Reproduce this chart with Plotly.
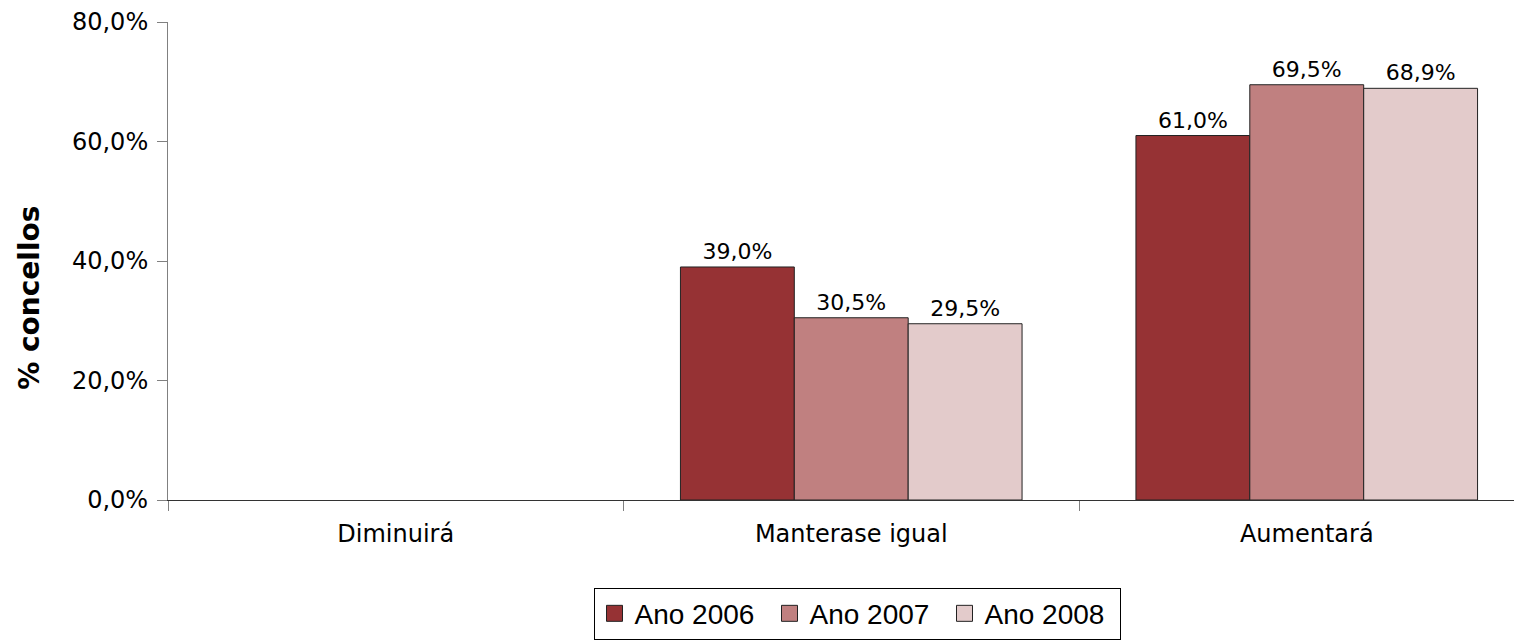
import plotly.graph_objects as go

categories = ["Diminuirá", "Manterase igual", "Aumentará"]
series_names = ["Ano 2006", "Ano 2007", "Ano 2008"]
values_2006 = [None, 39.0, 61.0]
values_2007 = [None, 30.5, 69.5]
values_2008 = [None, 29.5, 68.9]
y_ticks = [0, 20, 40, 60, 80]

colors = ["#963234", "#C08080", "#E3CBCB"]

fig = go.Figure()
for name, vals, col in zip(series_names, [values_2006, values_2007, values_2008], colors):
    fig.add_trace(go.Bar(
        x=categories, y=vals, name=name, showlegend=False,
        marker=dict(color=col, line=dict(color="#222222", width=1)),
        texttemplate="%{y:.1f}%", textposition="outside",
        textfont=dict(family="DejaVu Sans", size=22, color="black"),
        cliponaxis=False,
    ))
# legend entries with bigger square swatches
for name, col in zip(series_names, colors):
    fig.add_trace(go.Scatter(
        x=[None], y=[None], mode="markers", name=name,
        marker=dict(symbol="square", size=16, color=col, line=dict(color="#222222", width=1)),
    ))

# page body has an 8px margin, so the figure is a little smaller than the window
W, H = 1514, 633
ml, mt, mb = 160, 12, 141
cat_px = (1079 - 168) / 2
plot_w = W - ml
x_end = -0.5 + plot_w / cat_px

fig.update_layout(
    width=W, height=H,
    margin=dict(l=ml, r=0, t=mt, b=mb),
    plot_bgcolor="white", paper_bgcolor="white",
    barmode="group", bargap=0.25, bargroupgap=0,
    separators=",.",
    font=dict(family="DejaVu Sans", color="black"),
    legend=dict(
        orientation="h", x=(857 - 168) / plot_w, xanchor="center",
        y=(500 - 588) / 480, yanchor="top",
        font=dict(family="Liberation Sans", size=28, color="black"),
        bordercolor="black", borderwidth=1, itemwidth=30,
        entrywidth=130, entrywidthmode="pixels",
    ),
    annotations=[dict(
        text="<b>% concellos</b>", textangle=-90,
        xref="paper", yref="paper", x=(30 - 168) / plot_w, y=(500 - 297) / 480,
        xanchor="center", yanchor="middle", showarrow=False,
        font=dict(family="DejaVu Sans", size=28, color="black"),
    )],
)
fig.update_xaxes(
    range=[-0.5, x_end], showline=True, linecolor="#333333", linewidth=1,
    ticks="outside", tickson="boundaries", ticklen=10, tickcolor="#808080",
    tickfont=dict(family="DejaVu Sans", size=24, color="black"),
    ticklabelstandoff=12, showgrid=False,
)
fig.update_yaxes(
    range=[0, 80], tickvals=y_ticks, ticktext=[f"{v},0%" for v in y_ticks],
    showline=True, linecolor="#808080", linewidth=1,
    ticks="outside", ticklen=10, tickcolor="#808080",
    tickfont=dict(family="DejaVu Sans", size=24, color="black"),
    ticklabelstandoff=4, ticklabeloverflow="allow",
    showgrid=False, zeroline=False,
)

fig.write_html("out.html")
